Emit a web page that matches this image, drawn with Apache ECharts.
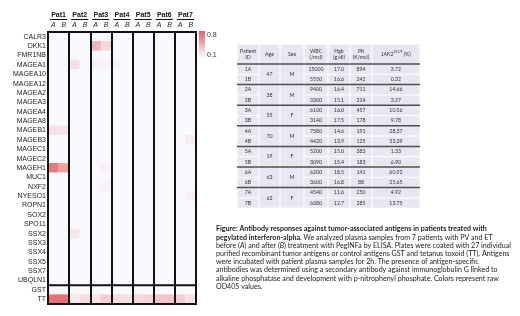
<!DOCTYPE html>
<html>
<head>
<meta charset="utf-8">
<script src="https://cdn.jsdelivr.net/npm/echarts@6/dist/echarts.min.js"></script>
<style>
html, body { margin: 0; padding: 0; background: #fff; }
#chart1 { width: 520px; height: 316px; }
</style>
</head>
<body>
<div id="chart1"></div>
<script>
// heatmap axes
var patients = ['Pat1', 'Pat2', 'Pat3', 'Pat4', 'Pat5', 'Pat6', 'Pat7'];
var samples = ['A', 'B', 'A', 'B', 'A', 'B', 'A', 'B', 'A', 'B', 'A', 'B', 'A', 'B'];
var antigens = ['CALR3', 'DKK1', 'FMR1NB', 'MAGEA1', 'MAGEA10', 'MAGEA12', 'MAGEA2', 'MAGEA3',
    'MAGEA4', 'MAGEA8', 'MAGEB1', 'MAGEB3', 'MAGEC1', 'MAGEC2', 'MAGEH1', 'MUC1', 'NXF2',
    'NYESO1', 'ROPN1', 'SOX2', 'SPO11', 'SSX2', 'SSX3', 'SSX4', 'SSX5', 'SSX7', 'UBQLN1',
    'GST', 'TT'];
// OD405 per antigen, columns Pat1 A, Pat1 B, ... Pat7 B
var odValues = [
    [0, 0, 0, 0, 0, 0, 0, 0, 0, 0, 0, 0, 0, 0],
    [0, 0, 0, 0, 0.38, 0.2, 0, 0, 0, 0, 0, 0, 0, 0],
    [0, 0, 0, 0, 0, 0, 0, 0, 0, 0, 0, 0, 0, 0],
    [0, 0, 0.16, 0, 0.06, 0.05, 0.04, 0, 0, 0, 0, 0, 0, 0],
    [0, 0, 0, 0, 0, 0, 0, 0, 0, 0, 0, 0, 0, 0],
    [0, 0, 0, 0, 0, 0, 0, 0, 0, 0, 0, 0, 0, 0],
    [0, 0, 0, 0, 0, 0, 0, 0, 0, 0, 0, 0, 0, 0],
    [0, 0, 0, 0, 0, 0, 0, 0, 0, 0, 0, 0, 0, 0],
    [0, 0, 0, 0, 0, 0, 0, 0, 0, 0, 0, 0, 0, 0],
    [0, 0, 0, 0, 0, 0, 0, 0, 0, 0, 0, 0, 0, 0],
    [0.16, 0.15, 0, 0, 0, 0, 0, 0, 0, 0, 0, 0, 0, 0],
    [0, 0, 0, 0, 0, 0, 0, 0, 0, 0, 0, 0, 0, 0.1],
    [0, 0, 0, 0, 0, 0, 0, 0, 0, 0, 0, 0, 0, 0],
    [0, 0, 0, 0, 0, 0, 0, 0, 0, 0, 0, 0, 0, 0],
    [0.66, 0.48, 0, 0, 0, 0.06, 0, 0, 0, 0, 0, 0, 0, 0],
    [0, 0, 0, 0, 0, 0, 0, 0, 0, 0, 0, 0, 0, 0],
    [0, 0, 0, 0, 0, 0.06, 0, 0, 0, 0, 0, 0, 0, 0],
    [0, 0, 0, 0, 0, 0, 0, 0, 0, 0, 0, 0, 0, 0.08],
    [0, 0, 0, 0, 0, 0, 0, 0, 0, 0, 0, 0, 0, 0],
    [0, 0, 0, 0, 0, 0, 0, 0, 0, 0, 0, 0, 0, 0],
    [0, 0, 0, 0, 0, 0, 0, 0, 0, 0, 0, 0, 0, 0],
    [0, 0, 0.12, 0, 0, 0, 0, 0, 0, 0, 0, 0, 0, 0],
    [0, 0, 0, 0, 0, 0, 0, 0, 0, 0, 0, 0, 0, 0],
    [0, 0, 0, 0, 0, 0, 0, 0, 0, 0, 0, 0, 0, 0],
    [0, 0, 0, 0, 0, 0, 0, 0, 0, 0, 0, 0, 0, 0],
    [0, 0, 0, 0, 0, 0, 0, 0, 0, 0, 0, 0, 0, 0],
    [0, 0, 0, 0, 0, 0, 0, 0, 0, 0, 0, 0, 0, 0],
    [0, 0, 0, 0, 0, 0, 0, 0, 0, 0, 0, 0, 0, 0],
    [0.7, 0.7, 0.12, 0.18, 0.15, 0.25, 0.17, 0.17, 0.2, 0.22, 0.3, 0.3, 0.25, 0.16]
];
var legendTicks = ['0.8', '0.1'];

// patient table
var tableHeaders = ['Patient\nID', 'Age', 'Sex', 'WBC\n(/mcl)', 'Hgb\n(g/dl)', 'Plt\n(K/mcl)', 'JAK2'];
var patientIds = ['1A', '1B', '2A', '2B', '3A', '3B', '4A', '4B', '5A', '5B', '6A', '6B', '7A', '7B'];
var ages = ['47', '38', '55', '70', '19', '63', '62'];
var sexes = ['M', 'M', 'F', 'M', 'F', 'M', 'F'];
var wbc = ['15000', '5550', '9400', '3300', '6100', '3140', '7580', '4420', '5200', '3090', '6200', '3600', '4540', '6080'];
var hgb = ['17.0', '16.6', '16.4', '15.1', '16.0', '17.5', '14.6', '13.9', '15.0', '15.4', '18.5', '16.8', '11.6', '12.7'];
var plt = ['894', '242', '711', '214', '457', '178', '191', '125', '383', '183', '141', '88', '250', '285'];
var jak2 = ['3.72', '0.32', '14.66', '3.27', '10.56', '9.78', '28.37', '33.39', '1.33', '6.90', '60.92', '25.65', '4.92', '13.75'];

var heatData = [];
odValues.forEach(function (row, yi) {
    row.forEach(function (v, xi) {
        heatData.push([xi, yi, v]);
    });
});

// one colour per 0.1 step, 0 .. 0.8
var heatColors = ['#f9f8fd', '#f9ecf0', '#f6d8dd', '#f3c4c8', '#efafb3', '#ec9b9e', '#e8878a', '#e57376', '#e25e61'];
var myChart = echarts.init(document.getElementById('chart1'));
myChart.setOption({
    animation: false,
    grid: {
        left: 48, top: 32, width: 148, height: 272,
        show: true, borderColor: '#111', borderWidth: 2, z: 6
    },
    xAxis: [{
        type: 'category',
        data: samples,
        position: 'top',
        axisLine: { show: false },
        axisTick: { show: false },
        axisLabel: { interval: 0, fontSize: 7, fontStyle: 'italic', fontFamily: 'Liberation Sans', color: '#222', margin: 3 },
        splitLine: {
            show: true,
            interval: function (i) { return i % 2 === 0; },
            lineStyle: { color: '#111', width: 2 }
        },
        z: 5
    }, {
        type: 'category',
        data: patients,
        position: 'top',
        offset: 11,
        axisLine: { show: false },
        axisTick: { show: false },
        splitLine: { show: false },
        axisLabel: { interval: 0, fontSize: 7, fontWeight: 'bold', fontFamily: 'Liberation Sans', color: '#111', margin: 2 }
    }],
    yAxis: {
        type: 'category',
        data: antigens,
        inverse: true,
        axisLine: { show: false },
        axisTick: { show: false },
        axisLabel: { interval: 0, fontSize: 7, fontFamily: 'Liberation Sans', color: '#222', margin: 2 },
        splitLine: { show: false }
    },
    visualMap: {
        show: false,
        type: 'continuous',
        min: 0,
        max: 0.8,
        seriesIndex: 0,
        inRange: { color: heatColors }
    },
    series: [{
        type: 'heatmap',
        xAxisIndex: 0,
        data: heatData,
        itemStyle: { borderWidth: 0 }
    }]
});

// header underlines, control separator, legend, table, caption
var graphics = [];
var bandW = myChart.convertToPixel({ xAxisIndex: 1 }, 1) - myChart.convertToPixel({ xAxisIndex: 1 }, 0);
patients.forEach(function (p, i) {
    var cx = myChart.convertToPixel({ xAxisIndex: 1 }, i);
    graphics.push({
        type: 'line',
        shape: { x1: cx - bandW / 2 + 2, y1: 19.5, x2: cx + bandW / 2 - 2, y2: 19.5 },
        style: { stroke: '#111', lineWidth: 1 }
    });
});
var yU = myChart.convertToPixel({ yAxisIndex: 0 }, 'UBQLN1');
var yG = myChart.convertToPixel({ yAxisIndex: 0 }, 'GST');
var xL = myChart.convertToPixel({ xAxisIndex: 1 }, 0) - bandW / 2;
var xR = myChart.convertToPixel({ xAxisIndex: 1 }, patients.length - 1) + bandW / 2;
graphics.push({
    type: 'line', z: 100,
    shape: { x1: xL, y1: (yU + yG) / 2, x2: xR, y2: (yU + yG) / 2 },
    style: { stroke: '#111', lineWidth: 2 }
});

graphics.push({
    type: 'rect',
    shape: { x: 199, y: 31, width: 6, height: 29 },
    style: {
        fill: new echarts.graphic.LinearGradient(0, 0, 0, 1, [
            { offset: 0, color: heatColors[8] },
            { offset: 0.8, color: heatColors[1] },
            { offset: 1, color: '#fdfcfe' }
        ])
    }
});
graphics.push({ type: 'text', x: 207, y: 35, style: { text: legendTicks[0], fontSize: 7, fontFamily: 'Liberation Sans', fill: '#333', verticalAlign: 'middle' } });
graphics.push({ type: 'text', x: 207, y: 55, style: { text: legendTicks[1], fontSize: 7, fontFamily: 'Liberation Sans', fill: '#333', verticalAlign: 'middle' } });

// table layout
var colEdges = [237, 259, 280, 304, 328, 350, 372, 420];
var headTop = 44, headH = 20, rowH = 10.3;
var bodyTop = headTop + headH;
var cellFill = '#e7e7f1';
var tFont = 'Lato';
function cellRect(x0, x1, y0, h) {
    graphics.push({
        type: 'rect',
        shape: { x: x0 + 0.5, y: y0 + 0.5, width: x1 - x0 - 1, height: h - 1 },
        style: { fill: cellFill }
    });
}
function cellText(txt, x0, x1, y0, h, rich) {
    graphics.push({
        type: 'text',
        x: (x0 + x1) / 2, y: y0 + h / 2,
        style: {
            text: txt, fontSize: 5.2, lineHeight: 6, fontFamily: tFont, fill: '#333',
            align: 'center', verticalAlign: 'middle', rich: rich
        }
    });
}
tableHeaders.forEach(function (h, c) {
    cellRect(colEdges[c], colEdges[c + 1], headTop, headH);
    if (c < 6) {
        cellText(h, colEdges[c], colEdges[c + 1], headTop, headH);
    } else {
        cellText('{n|' + h + '}{s|V617F}{n| (%)}', colEdges[c], colEdges[c + 1], headTop, headH, {
            n: { fontSize: 5.2, fontFamily: tFont, fill: '#333', lineHeight: 6, verticalAlign: 'bottom' },
            s: { fontSize: 3, fontFamily: tFont, fill: '#333', lineHeight: 6, verticalAlign: 'top' }
        });
    }
});
var bodyCols = [patientIds, null, null, wbc, hgb, plt, jak2];
patientIds.forEach(function (id, r) {
    var y0 = bodyTop + r * rowH;
    bodyCols.forEach(function (col, c) {
        if (!col) return;
        cellRect(colEdges[c], colEdges[c + 1], y0, rowH);
        cellText(col[r], colEdges[c], colEdges[c + 1], y0, rowH);
    });
});
ages.forEach(function (a, g) {
    var y0 = bodyTop + g * 2 * rowH;
    cellRect(colEdges[1], colEdges[2], y0, 2 * rowH);
    cellText(a, colEdges[1], colEdges[2], y0, 2 * rowH);
    cellRect(colEdges[2], colEdges[3], y0, 2 * rowH);
    cellText(sexes[g], colEdges[2], colEdges[3], y0, 2 * rowH);
});
for (var g = 0; g < ages.length; g++) {
    var ly = bodyTop + g * 2 * rowH;
    graphics.push({
        type: 'line',
        shape: { x1: colEdges[0], y1: ly, x2: colEdges[7], y2: ly },
        style: { stroke: '#4d4d4d', lineWidth: 1.5 }
    });
}

// caption
var capSize = 7.1, capLH = 8.2;
var capRich = {
    b: { fontSize: capSize, fontWeight: 'bold', fontFamily: tFont, fill: '#1a1a1a', lineHeight: capLH },
    n: { fontSize: capSize, fontFamily: tFont, fill: '#1a1a1a', lineHeight: capLH },
    i: { fontSize: capSize, fontStyle: 'italic', fontFamily: tFont, fill: '#1a1a1a', lineHeight: capLH }
};
var captionLines = [
    '{b|Figure: Antibody responses against tumor-associated antigens in patients treated with}',
    '{b|pegylated interferon-alpha.}{n| We analyzed plasma samples from 7 patients with PV and ET}',
    '{n|before (}{i|A}{n|) and after (}{i|B}{n|) treatment with PegINFa by ELISA. Plates were coated with 27 individual}',
    '{n|purified recombinant tumor antigens or control antigens GST and tetanus toxoid (TT). Antigens}',
    '{n|were incubated with patient plasma samples for 2h. The presence of antigen-specific}',
    '{n|antibodies was determined using a secondary antibody against immunoglobulin G linked to}',
    '{n|alkaline phosphatase and development with p-nitrophenyl phosphate. Colors represent raw}',
    '{n|OD405 values.}'
];
graphics.push({
    type: 'text',
    x: 216, y: 225,
    style: { text: captionLines.join('\n'), rich: capRich, fontSize: capSize, lineHeight: capLH, fontFamily: tFont }
});

myChart.setOption({ graphic: graphics });
</script>
</body>
</html>
